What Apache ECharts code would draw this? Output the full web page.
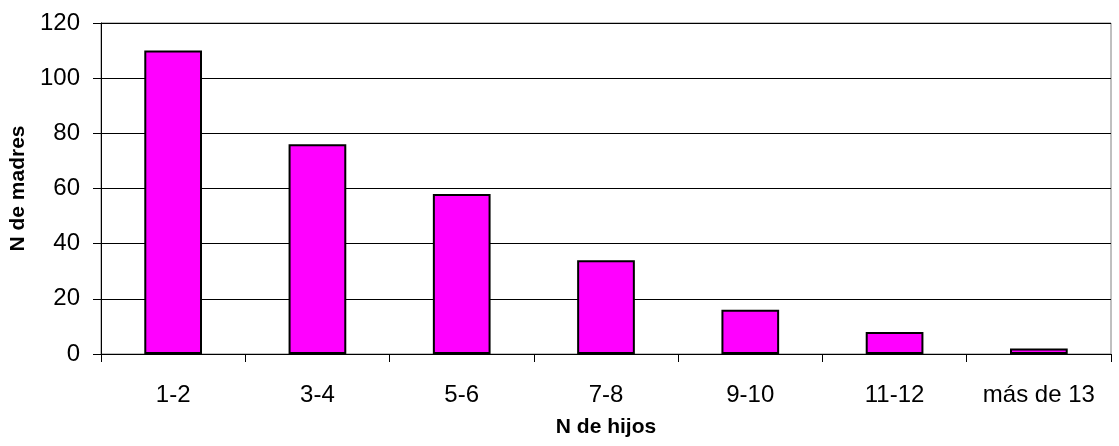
<!DOCTYPE html>
<html>
<head>
<meta charset="utf-8">
<script src="https://cdn.jsdelivr.net/npm/echarts@6/dist/echarts.min.js"></script>
<style>
  html, body { margin: 0; padding: 0; background: #fff; }
  #chart { width: 1119px; height: 446px; }
</style>
</head>
<body>
<div id="chart"></div>
<script>
// Number of mothers by number of children
const categories = ['1-2', '3-4', '5-6', '7-8', '9-10', '11-12', 'más de 13'];
const madres = [110, 76, 58, 34, 16, 8, 2];
const yTicks = { min: 0, max: 120, interval: 20 };

const chart = echarts.init(document.getElementById('chart'), null, { renderer: 'canvas' });
const font = '"Liberation Sans", Arial, sans-serif';

chart.setOption({
  animation: false,
  backgroundColor: '#ffffff',
  grid: {
    left: 101, right: 8, top: 23, bottom: 92,
    show: true, borderColor: '#808080', borderWidth: 1
  },
  xAxis: {
    type: 'category',
    data: categories,
    name: 'N de hijos',
    nameLocation: 'middle',
    nameGap: 63,
    nameTextStyle: { fontFamily: font, fontSize: 21, fontWeight: 'bold', color: '#000' },
    axisLine: { lineStyle: { color: '#000', width: 1 } },
    axisTick: { show: true, alignWithLabel: false, length: 8, lineStyle: { color: '#000' } },
    axisLabel: { fontFamily: font, fontSize: 24, color: '#000', margin: 29, interval: 0 }
  },
  yAxis: {
    type: 'value',
    min: yTicks.min, max: yTicks.max, interval: yTicks.interval,
    name: 'N de madres',
    nameLocation: 'middle',
    nameGap: 69,
    nameTextStyle: { fontFamily: font, fontSize: 21, fontWeight: 'bold', color: '#000' },
    axisLine: { show: true, lineStyle: { color: '#000', width: 1 } },
    axisTick: { show: true, length: 8, lineStyle: { color: '#000' } },
    axisLabel: { fontFamily: font, fontSize: 24, color: '#000', margin: 21 },
    splitLine: { show: true, lineStyle: { color: '#000', width: 1 } }
  },
  series: [{
    type: 'bar',
    data: madres,
    barWidth: '40%',
    itemStyle: { color: '#FF00FF', borderColor: '#000', borderWidth: 2 }
  }]
});
</script>
</body>
</html>
